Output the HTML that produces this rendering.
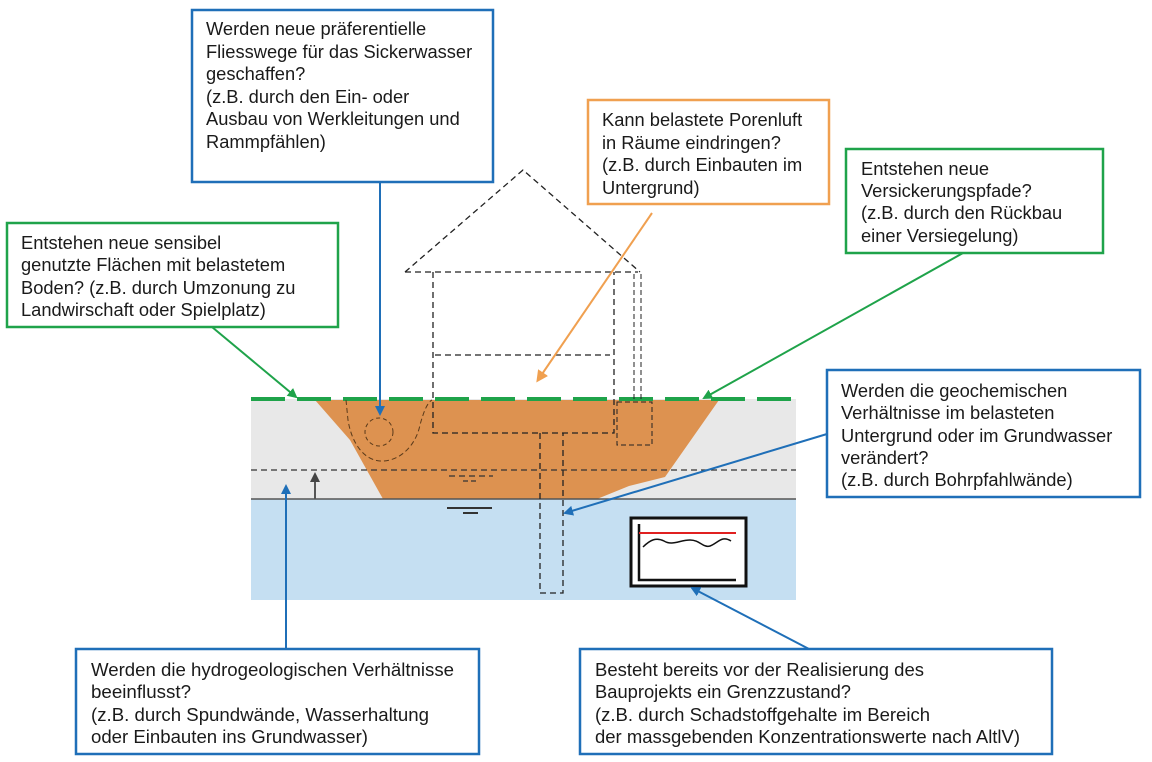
<!DOCTYPE html>
<html><head><meta charset="utf-8"><style>
html,body{margin:0;padding:0;background:#fff;}
svg{display:block;}
text{font-family:"Liberation Sans",Arial,sans-serif;font-size:18.3px;fill:#1a1a1a;}
</style></head><body>
<svg width="1152" height="762" viewBox="0 0 1152 762" xmlns="http://www.w3.org/2000/svg">
<defs>
<marker id="ab" markerWidth="10" markerHeight="10" refX="8" refY="5" orient="auto" markerUnits="userSpaceOnUse"><path d="M0,0 L10,5 L0,10 z" fill="#1f6fb8"/></marker>
<marker id="ag" markerWidth="10" markerHeight="10" refX="8" refY="5" orient="auto" markerUnits="userSpaceOnUse"><path d="M0,0 L10,5 L0,10 z" fill="#1fa34a"/></marker>
<marker id="ao" markerWidth="12" markerHeight="12" refX="9" refY="6" orient="auto" markerUnits="userSpaceOnUse"><path d="M0,0 L12,6 L0,12 z" fill="#f0a050"/></marker>
<marker id="ak" markerWidth="10" markerHeight="10" refX="8" refY="5" orient="auto" markerUnits="userSpaceOnUse"><path d="M0,0 L10,5 L0,10 z" fill="#444"/></marker>
</defs>
<rect x="251" y="399" width="545" height="100" fill="#e8e8e8"/>
<rect x="251" y="499" width="545" height="101" fill="#c5dff2"/>
<path d="M315,400 L719,400 L665,477 L629,486 L597,499 L383,499 L350,440 Z" fill="#dd9250"/>
<line x1="251" y1="470" x2="796" y2="470" stroke="#333" stroke-width="1.3" stroke-dasharray="6,4"/>
<line x1="251" y1="499" x2="796" y2="499" stroke="#555" stroke-width="1.5"/>
<line x1="251" y1="399" x2="796" y2="399" stroke="#1fa34a" stroke-width="4" stroke-dasharray="34,12"/>
<path d="M346,400 L348,420 C352,445 365,460 380,461 C400,462 416,445 420,425 C424,410 428,402 432,400" fill="none" stroke="#5a3a1a" stroke-width="1" stroke-dasharray="5,3"/>
<circle cx="379" cy="432" r="14" fill="none" stroke="#5a3a1a" stroke-width="1" stroke-dasharray="4,3"/>
<g fill="none" stroke="#222" stroke-width="1.3" stroke-dasharray="6,4">
<path d="M405,272 L523,170 L640,272"/>
<path d="M405,272 L638,272"/>
<path d="M433,272 L433,433 L614,433 L614,272"/>
<path d="M435,355 L610,355"/>
<path d="M540,433 L540,593 L563,593 L563,433"/>
</g>
<g fill="none" stroke="#222" stroke-width="1" stroke-dasharray="5,3">
<path d="M634,274 L634,400 M641,274 L641,400"/>
<rect x="617" y="402" width="35" height="43"/>
</g>
<g stroke="#333" stroke-width="1.2">
<line x1="449" y1="476" x2="493" y2="476" stroke-dasharray="6,4"/>
<line x1="463" y1="481" x2="478" y2="481" stroke-dasharray="5,3"/>
<line x1="447" y1="508" x2="492" y2="508" stroke-width="2"/>
<line x1="463" y1="513" x2="478" y2="513" stroke-width="2"/>
</g>
<line x1="315" y1="499" x2="315" y2="474" stroke="#555" stroke-width="2" marker-end="url(#ak)"/>
<rect x="631" y="518" width="115" height="68" fill="#fff" stroke="#111" stroke-width="3"/>
<path d="M639,524 L639,580 L736,580" fill="none" stroke="#111" stroke-width="2.5"/>
<line x1="639" y1="533" x2="736" y2="533" stroke="#e02020" stroke-width="2"/>
<path d="M643,547 C650,540 656,537 664,541 C672,546 680,540 690,540 C700,540 703,548 710,546 C718,543 722,535 731,541" fill="none" stroke="#111" stroke-width="1.5"/>
<line x1="380" y1="182" x2="380" y2="414" stroke="#1f6fb8" stroke-width="2" marker-end="url(#ab)"/>
<line x1="212" y1="327" x2="296" y2="397" stroke="#1fa34a" stroke-width="2" marker-end="url(#ag)"/>
<line x1="652" y1="213" x2="538" y2="380" stroke="#f0a050" stroke-width="2" marker-end="url(#ao)"/>
<line x1="963" y1="253" x2="704" y2="398" stroke="#1fa34a" stroke-width="2" marker-end="url(#ag)"/>
<line x1="827" y1="434" x2="565" y2="513" stroke="#1f6fb8" stroke-width="2" marker-end="url(#ab)"/>
<line x1="286" y1="649" x2="286" y2="486" stroke="#1f6fb8" stroke-width="2" marker-end="url(#ab)"/>
<line x1="809" y1="649" x2="692" y2="588" stroke="#1f6fb8" stroke-width="2" marker-end="url(#ab)"/>
<rect x="192" y="10" width="301" height="172" fill="#fff" stroke="#1f6fb8" stroke-width="2.5"/>
<rect x="7" y="223" width="331" height="104" fill="#fff" stroke="#1fa34a" stroke-width="2.5"/>
<rect x="588" y="100" width="241" height="104" fill="#fff" stroke="#f0a050" stroke-width="2.5"/>
<rect x="846" y="149" width="257" height="104" fill="#fff" stroke="#1fa34a" stroke-width="2.5"/>
<rect x="827" y="370" width="313" height="127" fill="#fff" stroke="#1f6fb8" stroke-width="2.5"/>
<rect x="76" y="649" width="403" height="105" fill="#fff" stroke="#1f6fb8" stroke-width="2.5"/>
<rect x="580" y="649" width="472" height="105" fill="#fff" stroke="#1f6fb8" stroke-width="2.5"/>
<g>
<text x="206" y="35">Werden neue präferentielle</text>
<text x="206" y="58">Fliesswege für das Sickerwasser</text>
<text x="206" y="80">geschaffen?</text>
<text x="206" y="103">(z.B. durch den Ein- oder</text>
<text x="206" y="125">Ausbau von Werkleitungen und</text>
<text x="206" y="148">Rammpfählen)</text>

<text x="21" y="249">Entstehen neue sensibel</text>
<text x="21" y="271">genutzte Flächen mit belastetem</text>
<text x="21" y="294">Boden? (z.B. durch Umzonung zu</text>
<text x="21" y="316">Landwirschaft oder Spielplatz)</text>

<text x="602" y="126">Kann belastete Porenluft</text>
<text x="602" y="149">in Räume eindringen?</text>
<text x="602" y="171">(z.B. durch Einbauten im</text>
<text x="602" y="194">Untergrund)</text>

<text x="861" y="175">Entstehen neue</text>
<text x="861" y="197">Versickerungspfade?</text>
<text x="861" y="219">(z.B. durch den Rückbau</text>
<text x="861" y="242">einer Versiegelung)</text>

<text x="841" y="397">Werden die geochemischen</text>
<text x="841" y="419">Verhältnisse im belasteten</text>
<text x="841" y="442">Untergrund oder im Grundwasser</text>
<text x="841" y="464">verändert?</text>
<text x="841" y="486">(z.B. durch Bohrpfahlwände)</text>

<text x="91" y="676" textLength="363" lengthAdjust="spacingAndGlyphs">Werden die hydrogeologischen Verhältnisse</text>
<text x="91" y="698" textLength="100" lengthAdjust="spacingAndGlyphs">beeinflusst?</text>
<text x="91" y="721" textLength="338" lengthAdjust="spacingAndGlyphs">(z.B. durch Spundwände, Wasserhaltung</text>
<text x="91" y="743" textLength="277" lengthAdjust="spacingAndGlyphs">oder Einbauten ins Grundwasser)</text>

<text x="595" y="676" textLength="329" lengthAdjust="spacingAndGlyphs">Besteht bereits vor der Realisierung des</text>
<text x="595" y="698" textLength="256" lengthAdjust="spacingAndGlyphs">Bauprojekts ein Grenzzustand?</text>
<text x="595" y="721" textLength="335" lengthAdjust="spacingAndGlyphs">(z.B. durch Schadstoffgehalte im Bereich</text>
<text x="595" y="743" textLength="425" lengthAdjust="spacingAndGlyphs">der massgebenden Konzentrationswerte nach AltlV)</text>
</g>
</svg>
</body></html>
